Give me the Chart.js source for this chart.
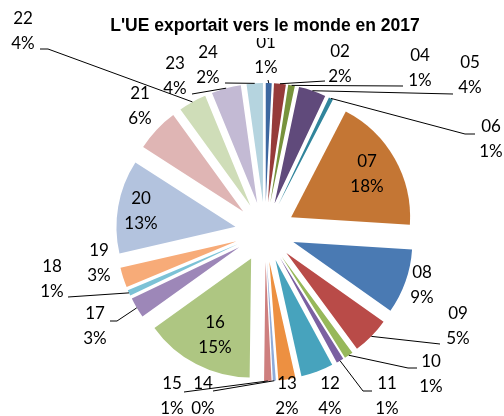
<!DOCTYPE html>
<html><head><meta charset="utf-8">
<script src="https://cdn.jsdelivr.net/npm/chart.js@4/dist/chart.umd.min.js"></script>
<style>html,body{margin:0;padding:0;background:#fff}#wrap{width:504px;height:416px;position:relative}</style>
</head><body><div id="wrap"><canvas id="c"></canvas></div>
<script>
const categories = ['01','02','04','05','06','07','08','09','10','11','12','13','14','15','16','17','18','19','20','21','22','23','24'];
const shares = [0.8,1.6,0.9,3.7,0.6,18.4,8.8,5.1,1.2,1.0,4.4,2.3,0.4,1.0,14.9,2.8,0.8,2.7,12.7,5.9,3.8,4.0,2.2];
const sliceColors = ['#3D68A0','#963B3A','#77933C','#604A7B','#31859C','#C47634',
  '#4A7AB3','#B94B48','#97B85A','#7B60A1','#47A3BD','#ED9041',
  '#8EABD9','#CE7F7E','#AEC682','#9D87B8','#7CC2D6','#F7AB78',
  '#B3C3DE','#DFB5B4','#CFDDB8','#C3BAD4','#B5D4DF'];
const chartTitle = "L'UE exportait vers le monde en 2017";

const EXPLODE = 30;
const RADIUS = 119;
const LINE_GAP = 25;
const LABEL_FONT = '17px Lato';

// label placement (first-line centre) and leader-line start points
const labelLayout = {
  '01': {x:266, y:43, line:[[268,80]]},
  '02': {x:340, y:52, line:[[325,81]]},
  '04': {x:420, y:56, line:[[403,86]]},
  '05': {x:470, y:63, line:[[453,94]]},
  '06': {x:491, y:127, line:[[475,134],[465,134]]},
  '07': {x:367, y:162},
  '08': {x:422, y:273},
  '09': {x:458, y:314, line:[[440,344]]},
  '10': {x:431, y:362, line:[[417,368],[408,368]]},
  '11': {x:387, y:384, line:[[372,391],[363,391]]},
  '12': {x:330, y:384},
  '13': {x:287, y:384},
  '14': {x:203, y:384, line:[[213,391]]},
  '15': {x:172, y:384, line:[[184,392]]},
  '16': {x:215, y:323},
  '17': {x:95, y:314, line:[[110,321],[117,321]]},
  '18': {x:52, y:267, line:[[68,297]]},
  '19': {x:99, y:251},
  '20': {x:141, y:199},
  '21': {x:140, y:94},
  '22': {x:23, y:19, line:[[40,49],[48,49]]},
  '23': {x:175, y:64, line:[[192,94]]},
  '24': {x:208, y:53, line:[[225,83]]}
};

// exploded slices: shift each arc outward along its bisector
const baseArcDraw = Chart.ArcElement.prototype.draw;
Chart.ArcElement.prototype.draw = function(ctx) {
  const half = (this.startAngle + this.endAngle) / 2;
  ctx.save();
  ctx.translate(Math.cos(half) * EXPLODE, Math.sin(half) * EXPLODE);
  baseArcDraw.call(this, ctx);
  ctx.restore();
};

const total = shares.reduce((a, b) => a + b, 0);

const labelPlugin = {
  id: 'pieLabels',
  afterDatasetsDraw(chart) {
    const ctx = chart.ctx;
    const meta = chart.getDatasetMeta(0);
    ctx.save();
    ctx.font = LABEL_FONT;
    ctx.fillStyle = '#000';
    ctx.textAlign = 'center';
    ctx.textBaseline = 'middle';
    ctx.strokeStyle = '#000';
    ctx.lineWidth = 1;
    meta.data.forEach((el, i) => {
      const cat = categories[i];
      const lay = labelLayout[cat];
      if (!lay) return;
      if (lay.line) {
        const half = (el.startAngle + el.endAngle) / 2;
        const r = el.outerRadius + EXPLODE;
        const ax = el.x + Math.cos(half) * r;
        const ay = el.y + Math.sin(half) * r;
        ctx.beginPath();
        ctx.moveTo(lay.line[0][0], lay.line[0][1]);
        for (let k = 1; k < lay.line.length; k++) ctx.lineTo(lay.line[k][0], lay.line[k][1]);
        ctx.lineTo(ax, ay);
        ctx.stroke();
      }
      const pct = Math.round(shares[i] / total * 100) + '%';
      ctx.fillText(cat, lay.x, lay.y);
      ctx.fillText(pct, lay.x, lay.y + LINE_GAP);
    });
    ctx.restore();
  },
  afterDraw(chart) {
    const ctx = chart.ctx;
    ctx.save();
    ctx.font = 'bold 17.5px "Liberation Sans", Arial, sans-serif';
    const w = ctx.measureText(chartTitle).width;
    ctx.fillStyle = '#fff';
    ctx.fillRect(265 - w / 2 - 4, 6, w + 8, 32);
    ctx.fillStyle = '#000';
    ctx.textAlign = 'center';
    ctx.textBaseline = 'alphabetic';
    ctx.fillText(chartTitle, 265, 31);
    ctx.restore();
  }
};

new Chart(document.getElementById('c'), {
  type: 'pie',
  data: {
    labels: categories,
    datasets: [{
      data: shares,
      backgroundColor: sliceColors,
      borderWidth: 0,
      radius: RADIUS
    }]
  },
  options: {
    responsive: true,
    maintainAspectRatio: false,
    animation: false,
    layout: {padding: {left: 26, right: 0, top: 48, bottom: 0}},
    plugins: {
      legend: {display: false},
      title: {display: false},
      tooltip: {enabled: false}
    }
  },
  plugins: [labelPlugin]
});
</script>
</body></html>
